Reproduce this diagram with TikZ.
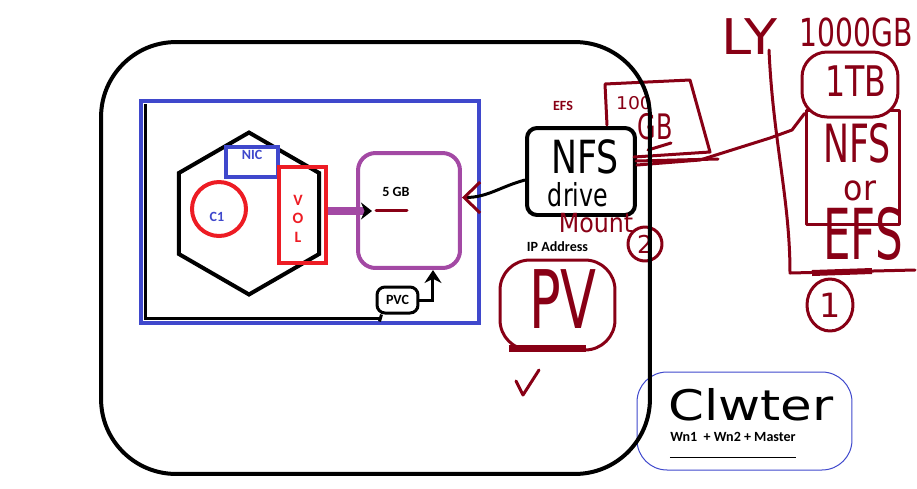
\documentclass[tikz,border=0pt]{standalone}
\usepackage{fontspec}
\setmainfont{Carlito}
\newfontfamily\handfont{DejaVu Sans}
\usepackage{graphicx}
\usetikzlibrary{positioning}
\usetikzlibrary{shapes.geometric}
\usetikzlibrary{arrows.meta}

\definecolor{paintblue}{RGB}{63,72,204}
\definecolor{paintred}{RGB}{237,28,36}
\definecolor{paintpurple}{RGB}{163,73,164}
\definecolor{paintdarkred}{RGB}{136,0,21}

\newcommand{\handwrite}[4]{{\handfont\fontsize{#1}{#1}\selectfont\scalebox{#2}[#3]{#4}}}

\begin{document}
\begin{tikzpicture}
		[x=0.02cm, y=-0.02cm,
		thickpen/.style={line width=0.08cm},
		redpen/.style={paintdarkred, line width=0.06cm, line cap=round, line join=round},
		typed/.style={font=\bfseries\fontsize{8}{9}\selectfont, inner sep=0pt},
		scrawl/.style={inner sep=0pt, text=paintdarkred}]
		\useasboundingbox (0,0) rectangle (917,488);

		\node[thickpen, draw=paintblue, minimum width=6.76cm, minimum height=4.44cm] (pod) at (310,212) {};
		\draw[line width=0.06cm] (145.5,104) |- (380,318.5);

		\node[thickpen, draw, regular polygon, regular polygon sides=6, shape border rotate=30, minimum size=3.24cm, inner sep=0pt] (cont) at (249,213.5) {};
		\node[thickpen, draw=paintred, circle, minimum size=1.08cm, inner sep=0pt] (c1) at (219,209) {};
		\node[typed, text=paintblue] (c1text) at (217,217) {C1};
		\node[thickpen, draw=paintblue, fill=white, minimum width=1.04cm, minimum height=0.6cm, inner sep=0pt] (nic) at (252,162) {};
		\node[typed, text=paintblue, below=0.09cm of nic.north] (nictext) {NIC};
		\node[thickpen, draw=paintred, minimum width=0.94cm, minimum height=1.92cm, inner sep=0pt] (vol) at (302.5,215) {};
		\node[typed, text=paintred, align=center, font=\bfseries\fontsize{9}{10.5}\selectfont] (voltext) at (298,218.5) {V\\O\\L};

		\node[thickpen, draw=paintpurple, rounded corners=0.35cm, minimum width=2.04cm, minimum height=2.3cm] (pvol) at (409,210.5) {};
		\node[typed] (gb) at (396,192) {5 GB};
		\coordinate (volin) at (372,211);
		\draw[paintpurple, line width=0.16cm, -{Stealth[black, length=0.22cm, width=0.34cm]}] (vol.east |- volin) -- (volin);
		\coordinate (gbleft) at (376,210);
		\coordinate (gbright) at (407,210);
		\draw[redpen] (gbleft) -- (gbright);

		\node[line width=0.06cm, draw, rounded corners=0.16cm, minimum width=0.82cm, minimum height=0.52cm, typed] (pvc) at (397.5,300) {PVC};
		\draw[line width=0.06cm] (pvc.south west) ++(6,0) -- ++(-2,7);
		\draw[line width=0.06cm, -{Stealth[length=0.26cm, width=0.34cm]}] (pvc.east) -| ([xshift=0.48cm]pvol.south);

		\node[thickpen, draw, rounded corners=0.2cm, minimum width=2.16cm, minimum height=1.74cm] (nfs) at (581,171.5) {};
		\node[typed, text=paintdarkred] (efs) at (563,106) {EFS};
		\node[inner sep=0pt] (nfstext) at (585,157) {\handwrite{26}{0.76}{1}{NFS}};
		\node[inner sep=0pt] (drive) at (578,195) {\handwrite{18}{0.75}{1}{drive}};
		\node[scrawl] (mount) at (596,223) {\handwrite{15}{0.9}{1}{Mount}};
		\node[redpen, draw, circle, minimum size=0.68cm, inner sep=0pt] (two) at (645,244) {\handwrite{14}{1}{1}{2}};
		\draw[line width=0.06cm, -{Straight Barb[color=paintdarkred, length=0.32cm, width=0.62cm]}] ([yshift=-0.17cm]nfs.west) to[out=195, in=0] ([yshift=0.26cm]pvol.east);

		\node[redpen, draw, rounded corners=0.6cm, minimum width=2.3cm, minimum height=1.8cm] (pv) at (557.5,305) {};
		\node[scrawl] (pvtext) at (563,299) {\handwrite{46}{0.65}{1}{PV}};
		\draw[paintdarkred, line width=0.14cm] ([xshift=0.2cm, yshift=0.06cm]pv.south west) -- ([xshift=-0.6cm, yshift=0.06cm]pv.south east);
		\node[typed, above=0.13cm of pv] (ip) {IP Address};
		\draw[redpen] (516,381) -- (523,395) -- (539,370);

		\draw[redpen] (607,125) -- (605,84) -- (690,80) -- (710,152) -- (634,157);
		\draw[redpen] (636,161) -- (718,159);
		\draw[redpen] (648,150) -- (671,143);
		\node[scrawl] (hundred) at (634,103) {\handwrite{10}{1.07}{1}{100}};
		\node[scrawl] (hundredgb) at (655,127) {\handwrite{20}{0.68}{1}{GB}};

		\node[scrawl] (ly) at (750,37) {\handwrite{28}{1.1}{1}{LY}};
		\draw[redpen] (769,50) .. controls (773,140) and (790,200) .. (790,273) -- (915,270);
		\draw[paintdarkred, line width=0.12cm] (812,273) -- (872,271);
		\node[scrawl] (thousand) at (856,32) {\handwrite{22}{0.73}{1}{1000GB}};
		\node[redpen, draw, minimum width=1.88cm, minimum height=2.3cm] (stor) at (853,167.5) {};
		\node[redpen, draw, fill=white, rounded corners=0.5cm, minimum width=1.92cm, minimum height=1.3cm] (tb) at (850,84.5) {};
		\node[scrawl] (tbtext) at (856,81) {\handwrite{24}{0.75}{1}{1TB}};
		\node[scrawl] (colnfs) at (857,143) {\handwrite{30}{0.66}{1}{NFS}};
		\node[scrawl] (color) at (860,191) {\handwrite{20}{0.9}{1}{or}};
		\node[scrawl] (colefs) at (863,234) {\handwrite{40}{0.62}{1}{EFS}};
		\node[redpen, draw, ellipse, minimum width=0.92cm, minimum height=1.04cm, inner sep=0pt] (one) at (830,305) {\handwrite{19}{1}{1}{1}};
		\draw[redpen] ([yshift=0.13cm]nfs.east) -- (700,160) -- (770,138) -- (792,130) -- ([yshift=-0.1cm]stor.north west);

		\node[draw=paintblue, line width=0.02cm, rounded corners=0.6cm, minimum width=4.3cm, minimum height=1.96cm] (cluster) at (744.5,421) {};
		\node[inner sep=0pt] (clwter) at (751,405) {\handwrite{24}{1.22}{1}{Clwter}};
		\node[typed] (members) at (733,437) {Wn1\ \ + Wn2 + Master};
		\draw[line width=0.02cm] ([yshift=-0.3cm]members.south west) -- ([yshift=-0.3cm]members.south east);

		\node[thickpen, draw, rounded corners=1.5cm, minimum width=10.98cm, minimum height=8.64cm] (worker) at (375.5,258) {};
	\end{tikzpicture}
\end{document}
